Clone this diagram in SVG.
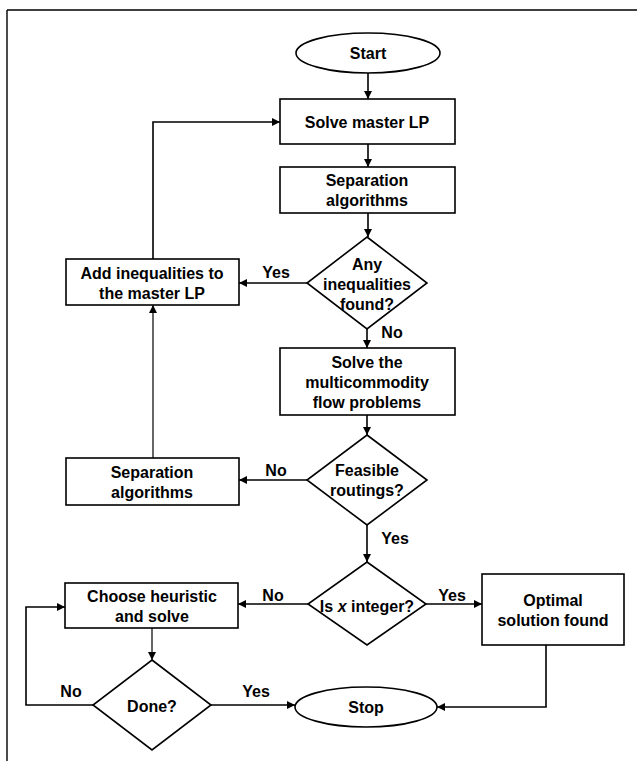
<svg xmlns="http://www.w3.org/2000/svg" width="637" height="761" viewBox="0 0 637 761">
<defs>
<marker id="ah" viewBox="0 0 10 10" refX="10" refY="5" markerWidth="9" markerHeight="8" markerUnits="userSpaceOnUse" orient="auto">
<path d="M0,0 L10,5 L0,10 z" fill="#000"/>
</marker>
</defs>
<style>
.s{fill:#fff;stroke:#000;stroke-width:1.6}
.t{font-family:"Liberation Sans",Arial,sans-serif;font-size:16px;font-weight:bold;text-anchor:middle;dominant-baseline:central;fill:#000}
.c{fill:none;stroke:#000;stroke-width:1.6}
.f{fill:none;stroke:#000;stroke-width:1.4}
</style>
<rect width="637" height="761" fill="#fff"/>
<g id="frame">
<path class="f" d="M7,10 H637 M7,10 V761"/>
</g>
<g id="connectors">
<path class="c" d="M368,73 V99" marker-end="url(#ah)"/>
<path class="c" d="M368,144 V167" marker-end="url(#ah)"/>
<path class="c" d="M368,213 V237" marker-end="url(#ah)"/>
<path class="c" d="M307,283 H239" marker-end="url(#ah)"/>
<path class="c" d="M367,329 V348" marker-end="url(#ah)"/>
<path class="c" d="M367,415 V435" marker-end="url(#ah)"/>
<path class="c" d="M307,480 H239" marker-end="url(#ah)"/>
<path class="c" d="M153,458 V305" marker-end="url(#ah)" style="stroke-width:1.2"/>
<path class="c" d="M153,259 V122 H280" marker-end="url(#ah)"/>
<path class="c" d="M367,525 V562" marker-end="url(#ah)"/>
<path class="c" d="M308,604 H238" marker-end="url(#ah)"/>
<path class="c" d="M426,604 H482" marker-end="url(#ah)"/>
<path class="c" d="M152,628 V660" marker-end="url(#ah)" style="stroke-width:1.2"/>
<path class="c" d="M93,705 H26 V607 H65" marker-end="url(#ah)"/>
<path class="c" d="M211,705 H295" marker-end="url(#ah)"/>
<path class="c" d="M546,645 V707 H437" marker-end="url(#ah)"/>
<text class="t" x="276" y="272">Yes</text>
<text class="t" x="392" y="332">No</text>
<text class="t" x="276" y="470">No</text>
<text class="t" x="395" y="538">Yes</text>
<text class="t" x="273" y="595">No</text>
<text class="t" x="452" y="595">Yes</text>
<text class="t" x="71" y="691">No</text>
<text class="t" x="256" y="691">Yes</text>
</g>
<g id="start">
<ellipse class="s" cx="368" cy="53" rx="72" ry="20"/>
<text class="t" x="368" y="53">Start</text>
</g>
<g id="solve-master">
<rect class="s" x="280" y="99" width="175" height="45"/>
<text class="t" x="367" y="122">Solve master LP</text>
</g>
<g id="separation1">
<rect class="s" x="280" y="167" width="175" height="46"/>
<text class="t" x="367" y="180">Separation</text>
<text class="t" x="367" y="200">algorithms</text>
</g>
<g id="any-ineq">
<path class="s" d="M367,237 L427,283 L367,329 L307,283 z"/>
<text class="t" x="367" y="264">Any</text>
<text class="t" x="367" y="284">inequalities</text>
<text class="t" x="367" y="304">found?</text>
</g>
<g id="add-ineq">
<rect class="s" x="66" y="259" width="173" height="46"/>
<text class="t" x="152" y="273">Add inequalities to</text>
<text class="t" x="152" y="293">the master LP</text>
</g>
<g id="solve-multi">
<rect class="s" x="280" y="348" width="175" height="67"/>
<text class="t" x="367" y="362">Solve the</text>
<text class="t" x="367" y="382">multicommodity</text>
<text class="t" x="367" y="402">flow problems</text>
</g>
<g id="feasible">
<path class="s" d="M367,435 L427,480 L367,525 L307,480 z"/>
<text class="t" x="367" y="470">Feasible</text>
<text class="t" x="367" y="490">routings?</text>
</g>
<g id="separation2">
<rect class="s" x="66" y="458" width="173" height="47"/>
<text class="t" x="152" y="472">Separation</text>
<text class="t" x="152" y="492">algorithms</text>
</g>
<g id="integer">
<path class="s" d="M367,562 L426,604 L367,645 L308,604 z"/>
<text class="t" x="367" y="606">Is <tspan font-style="italic">x</tspan> integer?</text>
</g>
<g id="choose">
<rect class="s" x="65" y="583" width="173" height="45"/>
<text class="t" x="152" y="596">Choose heuristic</text>
<text class="t" x="152" y="616">and solve</text>
</g>
<g id="optimal">
<rect class="s" x="482" y="574" width="142" height="71"/>
<text class="t" x="553" y="600">Optimal</text>
<text class="t" x="553" y="620">solution found</text>
</g>
<g id="done">
<path class="s" d="M152,660 L211,705 L152,750 L93,705 z"/>
<text class="t" x="152" y="706">Done?</text>
</g>
<g id="stop">
<ellipse class="s" cx="366" cy="707" rx="71" ry="20"/>
<text class="t" x="366" y="707">Stop</text>
</g>
</svg>
